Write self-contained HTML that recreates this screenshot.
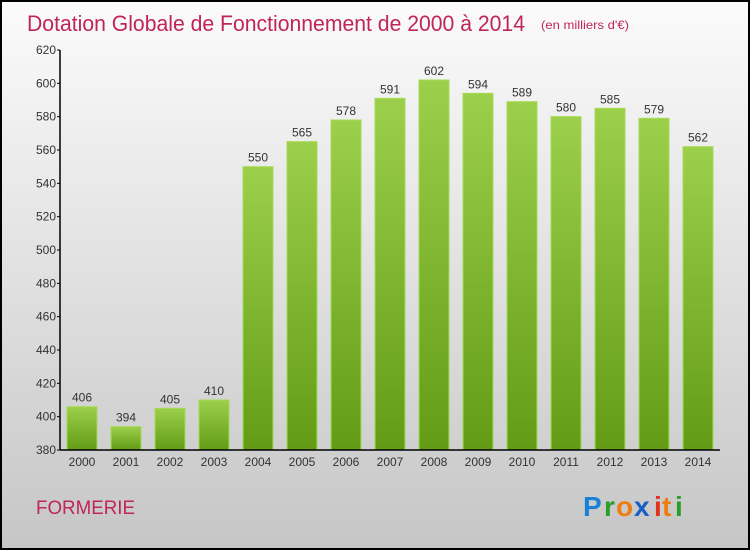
<!DOCTYPE html>
<html><head><meta charset="utf-8"><style>
html,body{margin:0;padding:0}
body{width:750px;height:550px;overflow:hidden}
svg text{font-family:"Liberation Sans",sans-serif}
</style></head><body>
<svg width="750" height="550" viewBox="0 0 750 550">
<defs>
<linearGradient id="bg" x1="0" y1="0" x2="0" y2="1"><stop offset="0" stop-color="#fbfbfb"/><stop offset="1" stop-color="#c6c6c6"/></linearGradient>
<linearGradient id="bar" x1="0" y1="0" x2="0" y2="1"><stop offset="0" stop-color="#9ccf4c"/><stop offset="1" stop-color="#629c16"/></linearGradient>
</defs>
<rect x="1" y="1" width="748" height="548" fill="url(#bg)" stroke="#000" stroke-width="2"/>
<text x="27" y="31" font-size="22" fill="#c0245c" textLength="498" lengthAdjust="spacingAndGlyphs">Dotation Globale de Fonctionnement de 2000 à 2014</text>
<text x="541" y="29" font-size="12" fill="#c0245c" textLength="88" lengthAdjust="spacingAndGlyphs">(en milliers d'€)</text>
<g id="bars"></g>
<g id="axes"></g>
<text x="36" y="514" font-size="19" fill="#c0245c" textLength="99" lengthAdjust="spacingAndGlyphs">FORMERIE</text>
<g font-size="28" font-weight="bold">
<text x="583" y="516" fill="#1a7fd6">P</text><text x="604" y="516" fill="#2a9d2a">r</text><text x="616" y="516" fill="#f07d10">o</text><text x="634" y="516" fill="#1a5fc6">x</text><text x="654" y="516" fill="#e03020">i</text><text x="662" y="516" fill="#f07d10">t</text><text x="675" y="516" fill="#2a9d2a">i</text>
</g>
</svg>
<script>
const categories=["2000","2001","2002","2003","2004","2005","2006","2007","2008","2009","2010","2011","2012","2013","2014"];
const values=[406,394,405,410,550,565,578,591,602,594,589,580,585,579,562];
const yTicks=[380,400,420,440,460,480,500,520,540,560,580,600,620];
const NS="http://www.w3.org/2000/svg";
const x0=60,x1=720,yTop=50,yBot=450,yMin=380,yMax=620;
const step=(x1-x0)/categories.length, bw=30;
const yS=v=>yBot-(v-yMin)/(yMax-yMin)*(yBot-yTop);
const xS=i=>x0+step*(i+0.5);
function mk(t,a,p){const e=document.createElementNS(NS,t);for(const k in a)e.setAttribute(k,a[k]);p.appendChild(e);return e;}
const bars=document.getElementById('bars'),axes=document.getElementById('axes');
values.forEach((v,i)=>{
 const r=mk('rect',{x:xS(i)-bw/2,y:yS(v),width:bw,height:yBot-yS(v),fill:'url(#bar)',stroke:'#a6dc52','stroke-width':1},bars);
 
 
 const t=mk('text',{x:xS(i),y:yS(v)-5,'font-size':12,fill:'#333','text-anchor':'middle'},bars);t.textContent=v;
 
 
 const c=mk('text',{x:xS(i),y:yBot+16,'font-size':12,fill:'#333','text-anchor':'middle'},axes);c.textContent=categories[i];
 
 
});
const ya=mk('line',{x1:x0,y1:yTop,x2:x0,y2:yBot,stroke:'#000','stroke-width':1.5},axes);


const xa=mk('line',{x1:x0,y1:yBot,x2:x1,y2:yBot,stroke:'#000','stroke-width':1.5},axes);


yTicks.forEach(v=>{
 mk('line',{x1:x0-3,y1:yS(v),x2:x0,y2:yS(v),stroke:'#000'},axes);
 const t=mk('text',{x:x0-4,y:yS(v)+4,'font-size':12,fill:'#333','text-anchor':'end'},axes);t.textContent=v;
 
 
});
</script>
</body></html>
